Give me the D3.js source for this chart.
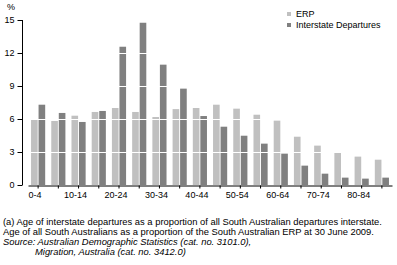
<!DOCTYPE html>
<html>
<head>
<meta charset="utf-8">
<script src="https://cdn.jsdelivr.net/npm/d3@7"></script>
<style>
  body { margin: 0; background: #fff; }
  svg { display: block; font-family: Arial, "Liberation Sans", sans-serif; }
</style>
</head>
<body>
<div id="chart"></div>
<script>
// age groups, every second one gets a label
var ages = ['0-4', '5-9', '10-14', '15-19', '20-24', '25-29', '30-34', '35-39', '40-44',
    '45-49', '50-54', '55-59', '60-64', '65-69', '70-74', '75-79', '80-84', '85+']
var series = ['ERP', 'Interstate Departures']
var erp = [5.94, 5.82, 6.3, 6.64, 7.0, 6.64, 6.18, 6.9, 7.0,
    7.3, 6.94, 6.39, 5.85, 4.39, 3.58, 2.94, 2.58, 2.3]
var departures = [7.3, 6.55, 5.73, 6.73, 12.57, 14.75, 10.94, 8.76, 6.27,
    5.3, 4.48, 3.76, 2.85, 1.76, 1.03, 0.67, 0.58, 0.67]
var yTicks = [0, 3, 6, 9, 12, 15]
var footnotes = [
    '(a) Age of interstate departures as a proportion of all South Australian departures interstate.',
    'Age of all South Australians as a proportion of the South Australian ERP at 30 June 2009.'
]
var sources = ['Source: Australian Demographic Statistics (cat. no. 3101.0),',
    'Migration, Australia (cat. no. 3412.0)']

var colors = { 'ERP': '#c0c0c0', 'Interstate Departures': '#808080' }

var data = ages.map(function (a, i) {
    return { age: a, 'ERP': erp[i], 'Interstate Departures': departures[i] }
})

var svg = d3.select('#chart').append('svg')
    .attr('width', 397)
    .attr('height', 265)

// plot area (window.top is taken, so the names are spelled out)
var plotLeft = 28, plotRight = 392, plotTop = 20, plotBottom = 185

var x0 = d3.scaleBand()
    .domain(ages)
    .range([plotLeft, plotRight])
    .paddingInner(0.3)
    .paddingOuter(0.15)
var x1 = d3.scaleBand()
    .domain(series)
    .range([0, x0.bandwidth()])
    .paddingInner(0.12)
var y = d3.scaleLinear()
    .domain([0, 15])
    .range([plotBottom, plotTop])

// bars
var groups = svg.append('g').selectAll('g')
    .data(data)
    .enter().append('g')
    .attr('transform', function (d) { return 'translate(' + x0(d.age) + ',0)' })
groups.selectAll('rect')
    .data(function (d) { return series.map(function (s) { return { key: s, value: d[s] } }) })
    .enter().append('rect')
    .attr('x', function (d) { return x1(d.key) })
    .attr('width', x1.bandwidth())
    .attr('y', function (d) { return y(d.value) })
    .attr('height', function (d) { return y(0) - y(d.value) })
    .style('fill', function (d) { return colors[d.key] })

// white gridlines on top of the bars
svg.append('g').selectAll('line')
    .data(yTicks.filter(function (t) { return t > 0 && t < 15 }))
    .enter().append('line')
    .attr('x1', plotLeft)
    .attr('x2', plotRight)
    .attr('y1', function (d) { return Math.round(y(d)) + 0.5 })
    .attr('y2', function (d) { return Math.round(y(d)) + 0.5 })
    .style('stroke', '#fff')
    .style('stroke-width', 1)

// y axis
var yAxis = d3.axisLeft(y)
    .tickValues(yTicks)
    .tickSize(5)
    .tickPadding(3)
var gy = svg.append('g')
    .attr('transform', 'translate(22.5,0)')
    .call(yAxis)
gy.select('.domain').attr('d', 'M0,' + plotTop + 'V' + plotBottom)
gy.selectAll('text').style('font-size', '9px').style('fill', '#000')
gy.selectAll('line').style('stroke', '#000')
svg.append('text')
    .attr('x', 7)
    .attr('y', 10)
    .style('font-size', '9px')
    .text('%')

// x axis
var xAxis = d3.axisBottom(x0)
    .tickSize(3)
    .tickSizeOuter(0)
    .tickFormat(function (d, i) { return i % 2 === 0 ? d : '' })
var gx = svg.append('g')
    .attr('transform', 'translate(0,' + (plotBottom + 0.5) + ')')
    .call(xAxis)
gx.selectAll('text')
    .attr('dx', -3)
    .attr('y', 6)
    .style('font-size', '9px')
    .style('fill', '#000')
gx.selectAll('line').style('stroke', '#000')

// legend
var legend = svg.append('g').selectAll('g')
    .data(series)
    .enter().append('g')
    .attr('transform', function (d, i) { return 'translate(287,' + (12 + i * 11) + ')' })
legend.append('rect')
    .attr('width', 4)
    .attr('height', 4)
    .style('fill', function (d) { return colors[d] })
legend.append('text')
    .attr('x', 9)
    .attr('y', 5)
    .style('font-size', '9px')
    .text(function (d) { return d })

// notes below the chart
svg.append('g').selectAll('text')
    .data(footnotes)
    .enter().append('text')
    .attr('x', 3)
    .attr('y', function (d, i) { return 225 + i * 10 })
    .style('font-size', '9.4px')
    .text(function (d) { return d })
svg.append('g').selectAll('text')
    .data(sources)
    .enter().append('text')
    .attr('x', function (d, i) { return i === 0 ? 3 : 35 })
    .attr('y', function (d, i) { return 245 + i * 10 })
    .style('font-size', '9.4px')
    .style('font-style', 'italic')
    .text(function (d) { return d })
</script>
</body>
</html>
